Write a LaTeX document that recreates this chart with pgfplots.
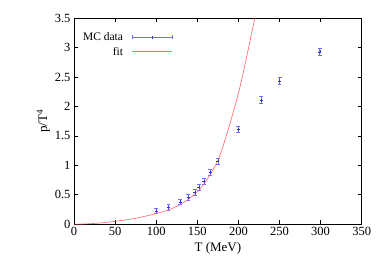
\documentclass[border=0pt]{standalone}
\usepackage{fontspec}
\setmainfont{Liberation Serif}
\usepackage{pgfplots}
\pgfplotsset{compat=1.18}
\definecolor{dblue}{RGB}{50,50,240}
\definecolor{lblue}{RGB}{110,110,255}
\definecolor{fitred}{RGB}{255,100,100}
\pgfplotstableread{
T p e
100 0.225 0.04
115 0.285 0.05
129 0.38 0.05
139 0.46 0.05
147 0.54 0.05
152 0.62 0.05
158 0.73 0.05
166 0.88 0.05
175 1.075 0.05
200 1.61 0.05
228 2.11 0.06
250 2.435 0.06
299 2.93 0.065
}\mcdata
\begin{document}
\begin{tikzpicture}
\begin{axis}[name=ax, scale only axis, width=288pt, height=206pt,
  xmin=0, xmax=350, ymin=0, ymax=3.5,
  xtick={0,50,...,350}, ytick={0,0.5,...,3.5},
  /pgf/number format/assume math mode=true,
  tick label style={font=\fontsize{12.5}{14}\selectfont},
  label style={font=\fontsize{13}{15}\selectfont},
  xlabel={T (MeV)}, ylabel={p/T\textsuperscript{4}},
  ylabel style={yshift=-2pt},
  tick align=inside, major tick length=4pt,
  tick style={black, line width=0.5pt},
  axis line style={line width=0.6pt},
  legend style={at={(axis description cs:0,1)}, anchor=north west, xshift=4pt, yshift=-10pt,
    draw=none, fill=none, font=\fontsize{11.5}{13}\selectfont, legend cell align=right, row sep=1pt},
  legend plot pos=right,
]
\addplot[dblue, only marks, mark=+, mark size=1.5pt, forget plot,
  error bars/.cd, y dir=both, y explicit,
  error bar style={lblue, line width=0.6pt},
  error mark options={lblue, mark size=2pt, rotate=90, line width=0.6pt}]
  table[x=T, y=p, y error=e] {\mcdata};
\addlegendimage{lblue, legend image code/.code={
  \path[draw=none, fill=none] (0pt,0pt) rectangle (47pt,0.1pt);
  \draw[lblue, line width=0.7pt] (7pt,0pt) -- (47pt,0pt);
  \draw[lblue, line width=0.7pt] (7pt,-2pt) -- (7pt,2pt);
  \draw[lblue, line width=0.7pt] (47pt,-2pt) -- (47pt,2pt);
  \draw[dblue, line width=0.7pt] (27pt,-1.5pt) -- (27pt,1.5pt);}}
\addlegendentry{MC data}
\addplot[fitred, line width=0.6pt, smooth, forget plot] coordinates {
(0,0) (10,0.002) (25,0.012) (40,0.03) (50,0.048) (60,0.065) (75,0.1) (90,0.145)
(100,0.18) (110,0.22) (120,0.27) (130,0.34) (140,0.43) (150,0.55) (155,0.63)
(160,0.72) (165,0.83) (170,0.95) (175,1.08) (180,1.27) (185,1.49) (190,1.72)
(195,1.97) (200,2.22) (205,2.52) (210,2.84) (215,3.17) (222,3.64)};
\addlegendimage{fitred, legend image code/.code={
  \path[draw=none, fill=none] (0pt,0pt) rectangle (47pt,0.1pt);
  \draw[fitred, line width=0.7pt] (7pt,0pt) -- (47pt,0pt);}}
\addlegendentry{fit}
\end{axis}
\pgfresetboundingbox
\path ([shift={(-74pt,-48.7pt)}]ax.south west) rectangle ([shift={(27.3pt,18.3pt)}]ax.north east);
\end{tikzpicture}
\end{document}
